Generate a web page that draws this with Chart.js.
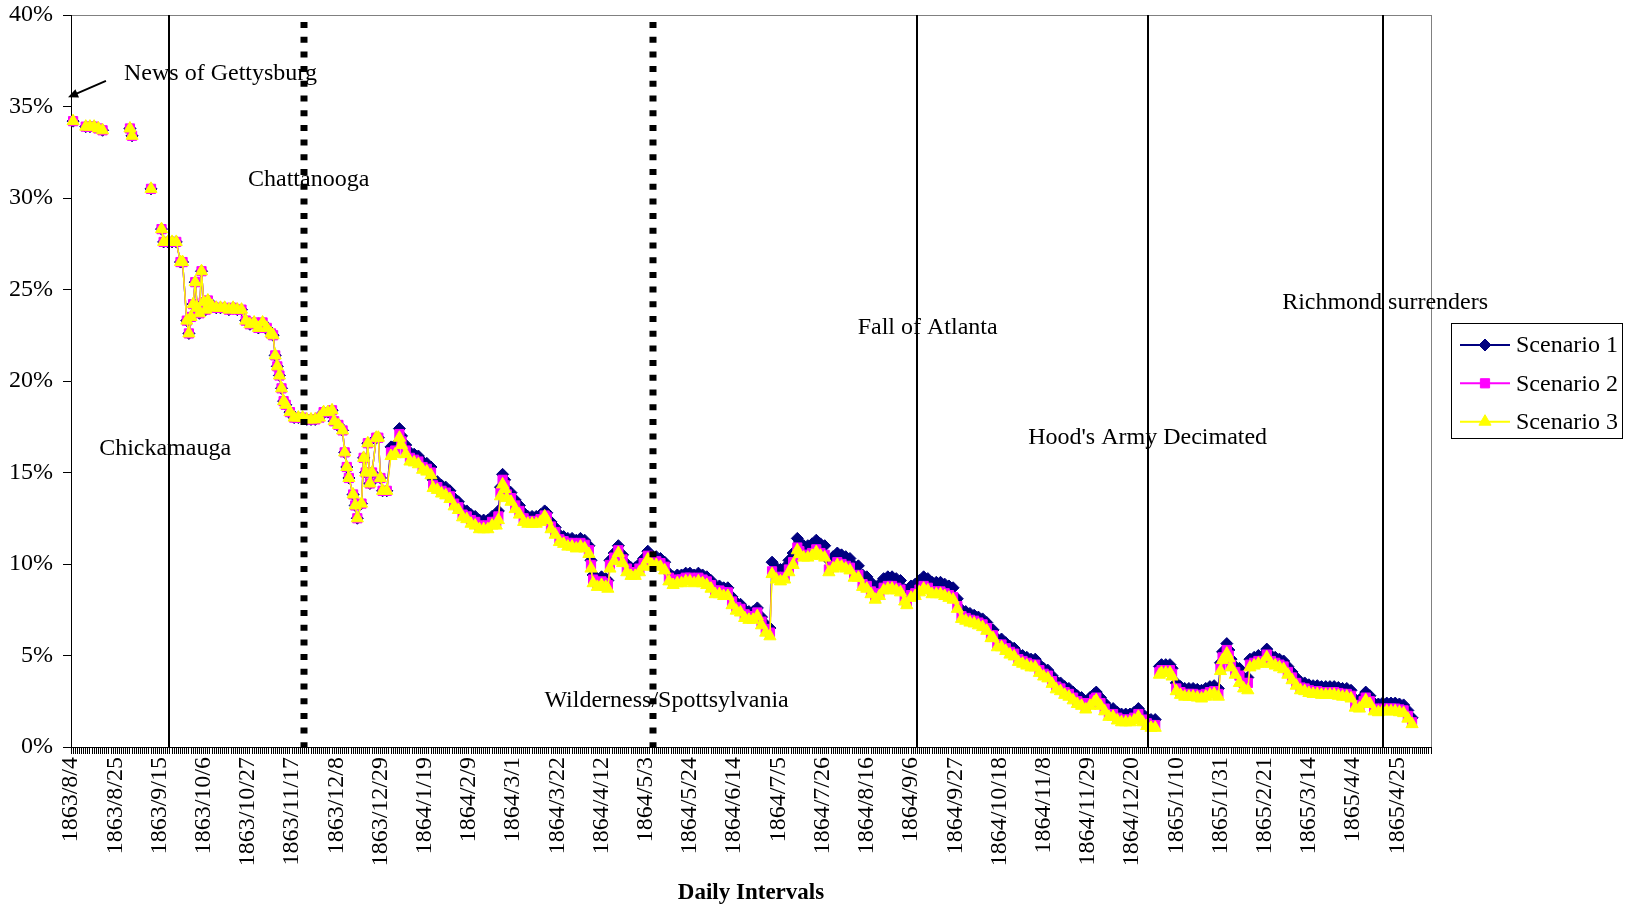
<!DOCTYPE html>
<html>
<head>
<meta charset="utf-8">
<script src="https://cdn.jsdelivr.net/npm/chart.js@4/dist/chart.umd.min.js"></script>
<style>
html,body{margin:0;padding:0;background:#fff;}
#wrap{width:1635px;height:910px;}
</style>
</head>
<body>
<div id="wrap"><canvas id="c" width="1635" height="910"></canvas></div>
<script>
// x values are days counted from 1863/8/4
const startDate = '1863/8/4';
const tickLabels = ['1863/8/4','1863/8/25','1863/9/15','1863/10/6','1863/10/27','1863/11/17','1863/12/8','1863/12/29',
  '1864/1/19','1864/2/9','1864/3/1','1864/3/22','1864/4/12','1864/5/3','1864/5/24','1864/6/14','1864/7/5','1864/7/26',
  '1864/8/16','1864/9/6','1864/9/27','1864/10/18','1864/11/8','1864/11/29','1864/12/20','1865/1/10','1865/1/31',
  '1865/2/21','1865/3/14','1865/4/4','1865/4/25'];
const tickEvery = 21;
const lastDay = 646;

const days = [
 1,2,7,9,11,13,15,16,28,29,
 30,38,39,43,44,46,48,50,52,53,
 55,56,57,58,59,60,61,62,63,64,
 65,67,69,71,73,75,77,79,81,83,
 85,87,89,91,93,95,96,97,98,99,
 100,101,102,104,106,108,110,112,114,116,
 118,120,122,124,125,127,129,130,131,132,
 134,135,136,138,139,140,141,142,143,145,
 146,147,148,150,152,154,156,157,159,161,
 163,165,167,169,171,172,174,176,178,180,
 182,184,186,188,190,192,194,196,198,200,
 202,203,204,205,206,207,209,211,213,215,
 217,219,221,223,225,226,228,230,232,234,
 236,238,240,242,244,246,247,248,250,252,
 254,255,256,258,260,262,264,266,268,270,
 272,274,276,278,280,282,284,286,288,290,
 292,294,296,298,300,302,304,306,308,310,
 312,314,316,318,320,322,324,326,328,330,
 332,333,335,337,339,341,343,345,346,348,
 350,352,354,356,358,360,362,364,366,368,
 370,372,374,376,378,380,382,384,386,388,
 390,392,394,396,397,399,401,403,405,407,
 409,411,413,415,417,419,421,423,425,427,
 429,431,433,435,437,438,440,442,444,446,
 448,450,452,454,456,458,460,462,464,466,
 468,470,472,474,476,478,480,482,484,486,
 487,489,491,493,495,497,499,501,503,505,
 507,509,511,513,515,516,517,518,520,522,
 523,525,527,529,531,533,535,537,539,541,
 543,545,546,547,549,550,551,553,555,557,
 559,560,562,564,566,568,570,572,574,576,
 578,580,582,584,586,588,590,592,594,596,
 598,600,602,604,606,608,610,612,614,615,
 617,619,621,623,625,627,629,631,633,635,
 637
];

const scenario1 = [
 34.2,null,33.9,33.9,33.9,33.8,33.7,null,33.8,33.4,
 null,30.5,null,28.3,27.6,27.6,27.6,27.6,26.5,26.5,
 23.3,22.6,23.5,24.2,25.4,24.0,23.7,26.0,24.3,23.9,
 24.4,24.1,24.0,24.0,24.0,23.9,24.0,23.9,23.9,23.3,
 23.1,23.2,22.9,23.2,22.9,22.6,22.5,21.4,20.8,20.3,
 19.6,18.9,18.7,18.3,18.0,18.0,18.0,17.9,17.9,17.9,
 18.0,18.3,18.3,18.4,17.8,17.6,17.3,16.1,15.3,14.7,
 13.8,13.2,12.5,13.3,15.8,15.0,16.6,14.4,15.0,16.9,
 16.9,14.7,14.0,14.0,16.4,16.5,17.4,17.0,16.5,16.1,
 16.0,15.9,15.6,15.5,15.3,14.6,14.5,14.3,14.2,14.0,
 13.6,13.4,13.0,12.9,12.7,12.6,12.4,12.4,12.4,12.6,
 12.6,12.9,14.2,14.9,14.6,14.1,13.9,13.5,13.2,12.8,
 12.6,12.6,12.6,12.7,12.9,12.8,12.3,12.0,11.6,11.5,
 11.4,11.4,11.3,11.4,11.3,11.0,10.2,9.4,9.2,9.3,
 9.2,9.1,10.2,10.6,11.0,10.5,10.0,9.8,9.8,10.0,
 10.3,10.7,10.4,10.4,10.3,10.1,9.5,9.3,9.4,9.4,
 9.5,9.5,9.4,9.5,9.4,9.3,9.1,8.8,8.8,8.7,
 8.7,8.2,7.9,7.8,7.5,7.4,7.4,7.6,7.1,6.7,
 6.5,10.1,9.8,9.7,9.8,10.2,10.6,11.4,11.2,11.0,
 11.0,11.1,11.3,11.1,11.0,10.2,10.4,10.6,10.5,10.4,
 10.3,9.9,9.9,9.4,9.3,9.0,8.7,8.9,9.2,9.3,
 9.3,9.2,9.1,8.6,8.4,8.8,8.9,9.1,9.3,9.2,
 9.0,9.0,9.0,8.9,8.8,8.7,8.1,7.5,7.4,7.3,
 7.2,7.1,7.0,6.8,6.4,6.4,5.9,5.9,5.7,5.5,
 5.4,5.1,5.0,4.9,4.8,4.8,4.5,4.3,4.2,3.9,
 3.6,3.5,3.3,3.2,3.0,2.8,2.7,2.5,2.7,2.9,
 3.0,2.7,2.4,2.1,2.1,1.9,1.8,1.8,1.8,1.9,
 2.1,1.8,1.6,1.5,1.5,null,4.4,4.5,4.5,4.5,
 4.3,3.5,3.3,3.2,3.2,3.2,3.15,3.1,3.2,3.3,
 3.35,3.2,4.6,5.2,5.65,5.3,4.8,4.4,4.3,3.8,
 3.8,4.8,4.9,5.0,5.0,5.35,5.0,4.9,4.8,4.7,
 4.4,4.1,3.8,3.55,3.5,3.4,3.35,3.35,3.3,3.3,
 3.3,3.3,3.25,3.2,3.2,3.1,2.6,2.55,2.8,3.0,
 2.8,2.4,2.35,2.4,2.4,2.4,2.4,2.35,2.3,2.0,
 1.6
];

const scenario2 = [
 34.2,null,33.9,33.9,33.9,33.8,33.7,null,33.8,33.4,
 null,30.5,null,28.3,27.6,27.6,27.6,27.6,26.5,26.5,
 23.3,22.6,23.5,24.2,25.4,24.0,23.7,26.0,24.3,23.9,
 24.4,24.1,24.0,24.0,24.0,23.9,24.0,23.9,23.9,23.3,
 23.1,23.2,22.9,23.2,22.9,22.6,22.5,21.4,20.8,20.3,
 19.6,18.9,18.7,18.3,18.0,18.0,18.0,17.9,17.9,17.9,
 18.0,18.3,18.3,18.4,17.8,17.6,17.3,16.1,15.3,14.7,
 13.8,13.2,12.5,13.3,15.8,15.0,16.6,14.4,15.0,16.9,
 16.9,14.7,14.0,14.0,16.1,16.2,17.1,16.7,16.2,15.8,
 15.7,15.6,15.3,15.2,15.0,14.3,14.2,14.0,13.9,13.7,
 13.3,13.1,12.7,12.6,12.4,12.3,12.1,12.1,12.1,12.3,
 12.3,12.6,13.9,14.6,14.3,13.8,13.6,13.2,12.9,12.5,
 12.35,12.35,12.35,12.45,12.65,12.55,12.05,11.75,11.35,11.25,
 11.15,11.15,11.05,11.15,11.05,10.75,9.95,9.15,8.95,9.05,
 8.95,8.85,9.95,10.35,10.75,10.25,9.75,9.55,9.55,9.75,
 10.05,10.45,10.15,10.15,10.05,9.85,9.25,9.05,9.15,9.15,
 9.25,9.25,9.15,9.25,9.15,9.05,8.85,8.55,8.55,8.45,
 8.45,7.95,7.65,7.55,7.25,7.15,7.15,7.35,6.85,6.45,
 6.25,9.6,9.3,9.2,9.3,9.7,10.1,10.9,10.7,10.5,
 10.5,10.6,10.8,10.6,10.5,9.7,9.9,10.1,10.0,9.9,
 9.8,9.4,9.4,8.9,8.8,8.5,8.2,8.4,8.7,8.8,
 8.8,8.7,8.6,8.1,7.9,8.3,8.4,8.6,8.8,8.7,
 8.5,8.5,8.5,8.4,8.3,8.2,7.7,7.15,7.05,6.95,
 6.9,6.8,6.7,6.5,6.1,6.1,5.6,5.6,5.4,5.2,
 5.1,4.8,4.7,4.6,4.5,4.5,4.2,4.0,3.9,3.6,
 3.3,3.2,3.0,2.9,2.7,2.5,2.4,2.2,2.4,2.6,
 2.7,2.4,2.1,1.8,1.8,1.6,1.5,1.5,1.5,1.6,
 1.8,1.5,1.3,1.2,1.2,null,4.1,4.2,4.2,4.2,
 4.0,3.2,3.0,2.9,2.9,2.9,2.85,2.8,2.9,3.0,
 3.05,2.9,4.3,4.9,5.3,5.0,4.5,4.1,3.9,3.5,
 3.5,4.5,4.6,4.7,4.7,5.05,4.7,4.6,4.5,4.4,
 4.1,3.8,3.5,3.25,3.2,3.1,3.05,3.05,3.0,3.0,
 3.0,3.0,2.95,2.9,2.9,2.8,2.3,2.25,2.5,2.7,
 2.5,2.1,2.05,2.1,2.1,2.1,2.1,2.05,2.0,1.7,
 1.35
];

const scenario3 = [
 34.2,null,33.9,33.9,33.9,33.8,33.7,null,33.8,33.4,
 null,30.5,null,28.3,27.6,27.6,27.6,27.6,26.5,26.5,
 23.3,22.6,23.5,24.2,25.4,24.0,23.7,26.0,24.3,23.9,
 24.4,24.1,24.0,24.0,24.0,23.9,24.0,23.9,23.9,23.3,
 23.1,23.2,22.9,23.2,22.9,22.6,22.5,21.4,20.8,20.3,
 19.6,18.9,18.7,18.3,18.0,18.0,18.0,17.9,17.9,17.9,
 18.0,18.3,18.3,18.4,17.8,17.6,17.3,16.1,15.3,14.7,
 13.8,13.2,12.5,13.3,15.8,15.0,16.6,14.4,15.0,16.9,
 16.9,14.7,14.0,14.0,15.9,16.0,16.9,16.5,16.0,15.6,
 15.55,15.45,15.15,15.05,14.85,14.15,14.05,13.85,13.75,13.55,
 13.15,12.95,12.55,12.45,12.2,12.1,11.9,11.9,11.9,12.1,
 12.1,12.4,13.7,14.35,14.1,13.6,13.4,13.0,12.7,12.3,
 12.2,12.2,12.2,12.3,12.6,12.4,11.9,11.6,11.2,11.1,
 10.95,10.95,10.85,10.95,10.85,10.55,9.75,8.95,8.75,8.85,
 8.75,8.65,9.75,10.15,10.6,10.05,9.55,9.35,9.35,9.55,
 9.85,10.25,9.95,9.95,9.85,9.65,9.05,8.85,8.95,8.95,
 9.05,9.05,8.95,9.05,8.95,8.85,8.65,8.35,8.35,8.25,
 8.25,7.75,7.45,7.35,7.05,6.95,6.95,7.15,6.65,6.25,
 6.05,9.45,9.15,9.05,9.15,9.55,9.95,10.75,10.55,10.35,
 10.35,10.45,10.65,10.45,10.35,9.55,9.75,9.95,9.85,9.75,
 9.65,9.25,9.25,8.75,8.65,8.35,8.05,8.25,8.55,8.65,
 8.65,8.55,8.45,7.95,7.75,8.15,8.25,8.45,8.65,8.55,
 8.35,8.35,8.35,8.25,8.15,8.05,7.55,7.0,6.9,6.8,
 6.75,6.65,6.55,6.35,5.95,5.95,5.45,5.45,5.25,5.05,
 4.95,4.65,4.55,4.45,4.35,4.35,4.05,3.85,3.75,3.45,
 3.15,3.05,2.85,2.75,2.55,2.35,2.25,2.05,2.25,2.45,
 2.55,2.25,1.95,1.65,1.65,1.45,1.35,1.35,1.35,1.45,
 1.65,1.35,1.15,1.05,1.05,null,3.95,4.05,4.05,4.05,
 3.85,3.05,2.85,2.75,2.75,2.75,2.7,2.65,2.75,2.85,
 2.9,2.75,4.15,4.75,5.1,4.85,4.35,3.95,3.5,3.2,
 3.1,4.35,4.45,4.55,4.55,4.9,4.55,4.45,4.35,4.25,
 3.95,3.65,3.35,3.1,3.05,2.95,2.9,2.9,2.85,2.85,
 2.85,2.85,2.8,2.75,2.75,2.65,2.15,2.1,2.35,2.55,
 2.35,1.95,1.9,1.95,1.95,1.95,1.95,1.9,1.85,1.55,
 1.25
];

const seriesNames = ['Scenario 1', 'Scenario 2', 'Scenario 3'];
const seriesColors = ['#000080', '#FF00FF', '#FFFF00'];
const yTicks = [0, 5, 10, 15, 20, 25, 30, 35, 40];

// event lines (day index) and their text labels
const eventDays = [46.7, 110.8, 276.3, 401.8, 511.5, 623.3];
const eventDotted = [false, true, true, false, false, false];
const noteTexts = ['News of Gettysburg', 'Chattanooga', 'Chickamauga', 'Wilderness/Spottsylvania',
  'Fall of Atlanta', "Hood's Army Decimated", 'Richmond surrenders'];
const noteDays = [71.0, 112.9, 44.7, 282.9, 406.9, 511.4, 624.2];
const notePct = [36.8, 31.0, 16.3, 2.55, 22.9, 16.9, 24.3];
const arrowFrom = [16.6, 36.4];
const arrowTo = [-1.4, 35.5];

const FONT = '"Liberation Serif", "Times New Roman", serif';
Chart.defaults.font.family = FONT;
Chart.defaults.color = '#000';

const markerStyles = ['rectRot', 'rect', 'triangle'];
const markerRadius = [6, 6.5, 7];
const seriesValues = [scenario1, scenario2, scenario3];

const datasets = seriesValues.map((vals, i) => ({
  label: seriesNames[i],
  data: days.map((d, j) => ({ x: d, y: vals[j] })),
  borderColor: seriesColors[i],
  backgroundColor: seriesColors[i],
  pointBackgroundColor: seriesColors[i],
  pointBorderColor: seriesColors[i],
  pointBorderWidth: 1,
  pointStyle: markerStyles[i],
  pointRadius: markerRadius[i],
  borderWidth: 1.5,
  tension: 0,
  spanGaps: false,
  clip: false,
  order: 3 - i
}));

function drawMarker(ctx, style, x, y, r) {
  ctx.beginPath();
  if (style === 'rectRot') {
    ctx.moveTo(x, y - r); ctx.lineTo(x + r, y); ctx.lineTo(x, y + r); ctx.lineTo(x - r, y);
  } else if (style === 'rect') {
    const s = r * Math.SQRT1_2;
    ctx.rect(x - s, y - s, 2 * s, 2 * s);
  } else {
    const h = r * Math.sqrt(3) / 2;
    ctx.moveTo(x, y - r); ctx.lineTo(x + h, y + r / 2); ctx.lineTo(x - h, y + r / 2);
  }
  ctx.closePath();
  ctx.fill();
  ctx.stroke();
}

const overlay = {
  id: 'overlay',
  beforeDraw(chart) {
    const { ctx, chartArea: a } = chart;
    ctx.save();
    ctx.fillStyle = '#fff';
    ctx.fillRect(0, 0, chart.width, chart.height);
    ctx.strokeStyle = '#808080';
    ctx.lineWidth = 1;
    ctx.strokeRect(a.left + 0.5, a.top + 0.5, a.right - a.left, a.bottom - a.top);
    ctx.restore();
  },
  afterDatasetsDraw(chart) {
    const { ctx, chartArea: a, scales: { x, y } } = chart;
    ctx.save();
    ctx.font = '24px ' + FONT;
    ctx.fillStyle = '#000';
    ctx.textAlign = 'center';
    ctx.textBaseline = 'middle';
    noteTexts.forEach((t, i) => ctx.fillText(t, x.getPixelForValue(noteDays[i]), y.getPixelForValue(notePct[i])));

    ctx.strokeStyle = '#000';
    eventDays.forEach((d, i) => {
      const px = Math.round(x.getPixelForValue(d));
      ctx.beginPath();
      if (eventDotted[i]) {
        ctx.lineWidth = 7;
        ctx.setLineDash([6, 8.7]);
        ctx.moveTo(px, a.top + 7);
      } else {
        ctx.lineWidth = 2;
        ctx.setLineDash([]);
        ctx.moveTo(px, a.top);
      }
      ctx.lineTo(px, a.bottom);
      ctx.stroke();
    });
    ctx.setLineDash([]);

    // arrow
    const x0 = x.getPixelForValue(arrowFrom[0]), y0 = y.getPixelForValue(arrowFrom[1]);
    const x1 = x.getPixelForValue(arrowTo[0]), y1 = y.getPixelForValue(arrowTo[1]);
    const ang = Math.atan2(y1 - y0, x1 - x0);
    const hl = 10, hw = 4.5;
    ctx.lineWidth = 2;
    ctx.beginPath();
    ctx.moveTo(x0, y0);
    ctx.lineTo(x1 - Math.cos(ang) * hl * 0.8, y1 - Math.sin(ang) * hl * 0.8);
    ctx.stroke();
    ctx.beginPath();
    ctx.moveTo(x1, y1);
    ctx.lineTo(x1 - Math.cos(ang) * hl - Math.sin(ang) * hw, y1 - Math.sin(ang) * hl + Math.cos(ang) * hw);
    ctx.lineTo(x1 - Math.cos(ang) * hl + Math.sin(ang) * hw, y1 - Math.sin(ang) * hl - Math.cos(ang) * hw);
    ctx.closePath();
    ctx.fill();
    ctx.restore();
  },
  afterDraw(chart) {
    const ctx = chart.ctx;
    const box = { left: 1451, top: 323, width: 171, height: 115 };
    const rowY = [345, 383.3, 421.7];
    ctx.save();
    ctx.strokeStyle = '#000';
    ctx.lineWidth = 1;
    ctx.strokeRect(box.left + 0.5, box.top + 0.5, box.width, box.height);
    ctx.font = '24px ' + FONT;
    ctx.textAlign = 'left';
    ctx.textBaseline = 'middle';
    chart.data.datasets.forEach((ds, i) => {
      const yy = rowY[i];
      ctx.strokeStyle = ds.borderColor;
      ctx.lineWidth = 2;
      ctx.beginPath();
      ctx.moveTo(1460, yy);
      ctx.lineTo(1510, yy);
      ctx.stroke();
      ctx.fillStyle = ds.pointBackgroundColor;
      ctx.lineWidth = 1;
      drawMarker(ctx, ds.pointStyle, 1485, yy, ds.pointRadius);
      ctx.fillStyle = '#000';
      ctx.fillText(ds.label, 1516, yy + 1);
    });
    ctx.restore();
  }
};

new Chart(document.getElementById('c'), {
  type: 'line',
  data: { datasets },
  options: {
    responsive: false,
    devicePixelRatio: 1,
    animation: false,
    events: [],
    layout: { padding: { top: 15, right: 204, left: 0, bottom: 0 } },
    plugins: { legend: { display: false }, tooltip: { enabled: false } },
    scales: {
      x: {
        type: 'linear',
        min: 0,
        max: lastDay,
        afterFit: s => { s.height = 163; s.paddingTop = 0; s.paddingBottom = 0; },
        ticks: {
          stepSize: 1,
          autoSkip: false,
          maxRotation: 90,
          minRotation: 90,
          padding: 3,
          color: '#000',
          font: { family: FONT, size: 24 },
          callback: v => (v % tickEvery === 0 ? (tickLabels[v / tickEvery] || '') : '')
        },
        grid: { drawOnChartArea: false, drawTicks: true, tickLength: 7, color: '#000', lineWidth: 1 },
        border: { display: true, color: '#000', width: 1 },
        title: { display: true, text: 'Daily Intervals', color: '#000', font: { family: FONT, size: 23, weight: 'bold' }, padding: { top: 0, bottom: 3 } }
      },
      y: {
        min: 0,
        max: 40,
        afterFit: s => { s.width = 71; s.paddingTop = 0; s.paddingBottom = 0; },
        afterBuildTicks: s => { s.ticks = yTicks.map(v => ({ value: v })); },
        ticks: { stepSize: 5, padding: 10, color: '#000', font: { family: FONT, size: 24 }, callback: v => v + '%' },
        grid: { drawOnChartArea: false, drawTicks: true, tickLength: 8, color: '#000' },
        border: { display: true, color: '#000', width: 1 }
      }
    }
  },
  plugins: [overlay]
});
</script>
</body>
</html>
